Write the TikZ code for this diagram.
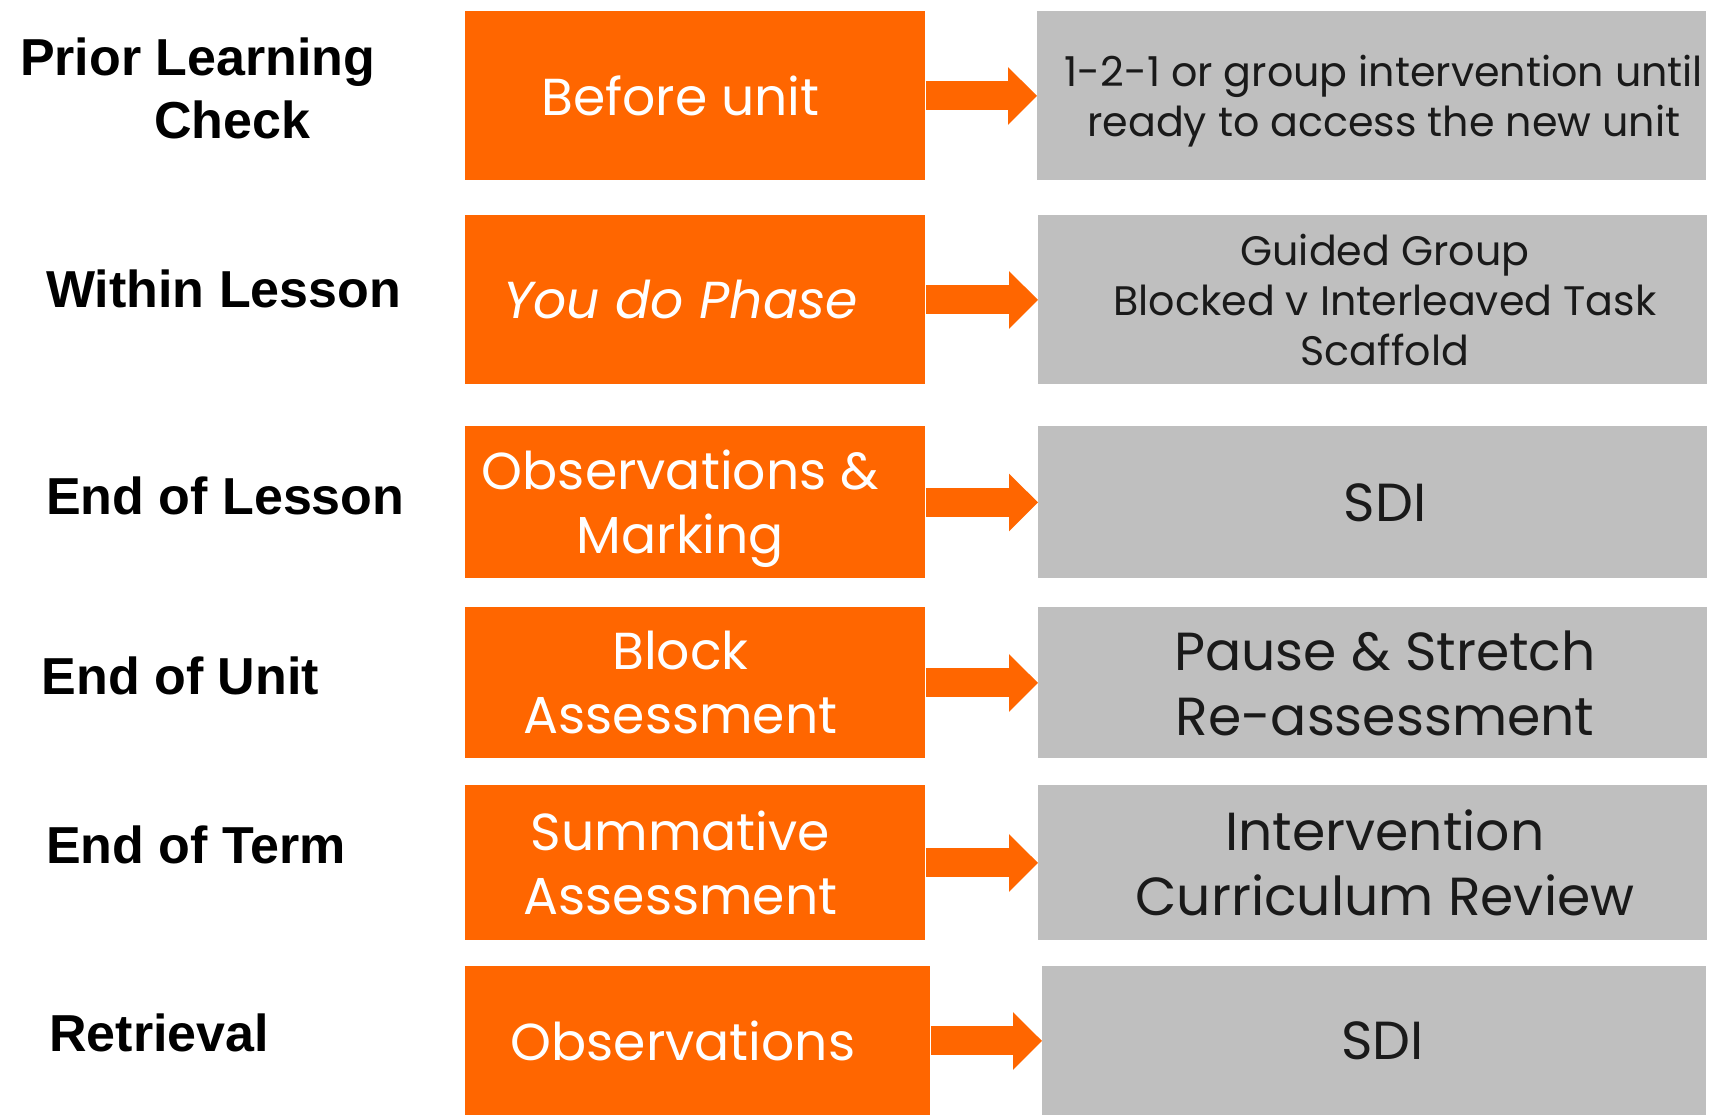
\documentclass[tikz,border=0pt]{standalone}
\usepackage{fontspec}
\setmainfont{Poppins}
\newfontfamily\labfont{Liberation Sans}
\usetikzlibrary{arrows.meta}
\definecolor{orng}{HTML}{FF6600}
\definecolor{gry}{HTML}{BFBFBF}
\definecolor{ink}{HTML}{1A1A1A}
\begin{document}
\begin{tikzpicture}[x=0.5pt,y=-0.5pt,
  obox/.style={fill=orng, draw=none, anchor=north west, inner sep=0pt, minimum width=230pt},
  gbox/.style={fill=gry, draw=none, anchor=north west, inner sep=0pt, minimum width=334.5pt},
  otext/.style={text=white, align=center, inner sep=0pt, xshift=-7.5pt,
    font=\fontsize{26}{32}\selectfont},
  gtext/.style={text=ink, align=center, inner sep=0pt, xshift=6pt},
  small/.style={font=\fontsize{20.6}{25}\selectfont},
  big/.style={font=\fontsize{26.8}{32.5}\selectfont},
  lab/.style={anchor=west, inner sep=0pt, align=left, text=black,
    font=\labfont\bfseries\fontsize{26}{31.5}\selectfont},
  arr/.style={orng, line width=14.5pt, -{Triangle[length=14.5pt,width=28pt]}}]
\useasboundingbox (0,0) rectangle (1709,1115);
\fill[white] (0,0) rectangle (1709,1115);
% left labels
\node[lab] (l1) at (19.6,88) {Prior Learning\\\hspace*{67pt}Check};
\node[lab] (l2) at (45.8,289) {Within Lesson};
\node[lab] (l3) at (45.8,496) {End of Lesson};
\node[lab] (l4) at (41.4,676) {End of Unit};
\node[lab] (l5) at (45.8,845) {End of Term};
\node[lab] (l6) at (49,1033) {Retrieval};
% orange boxes
\node[obox, minimum height=84.5pt] (o1) at (465,11) {};
\node[obox, minimum height=84.5pt] (o2) at (465,215) {};
\node[obox, minimum height=76pt] (o3) at (465,426) {};
\node[obox, minimum height=75.5pt] (o4) at (465,607) {};
\node[obox, minimum height=77.5pt] (o5) at (465,785) {};
\node[obox, minimum height=74.5pt, minimum width=232.5pt] (o6) at (465,966) {};
\node[otext] (t1) at (o1.center) {Before unit};
\node[otext] (t2) at (o2.center) {\itshape You do Phase};
\node[otext, yshift=-3pt] (t3) at (o3.center) {Observations \&\\Marking};
\node[otext] (t4) at (o4.center) {Block\\Assessment};
\node[otext] (t5) at (o5.center) {Summative\\Assessment};
\node[otext] (t6) at (o6.center) {Observations};
% grey boxes
\node[gbox, minimum height=84.5pt] (g1) at (1037,11) {};
\node[gbox, minimum height=84.5pt] (g2) at (1038,215) {};
\node[gbox, minimum height=76pt] (g3) at (1038,426) {};
\node[gbox, minimum height=75.5pt] (g4) at (1038,607) {};
\node[gbox, minimum height=77.5pt] (g5) at (1038,785) {};
\node[gbox, minimum height=74.5pt, minimum width=332pt] (g6) at (1042,966) {};
\node[gtext, small, yshift=-2.7pt] (s1) at (g1.center) {1-2-1 or group intervention until\\ready to access the new unit};
\node[gtext, small] (s2) at (g2.center) {Guided Group\\Blocked v Interleaved Task\\Scaffold};
\node[gtext, big] (s3) at (g3.center) {SDI};
\node[gtext, big] (s4) at (g4.center) {Pause \& Stretch\\Re-assessment};
\node[gtext, big] (s5) at (g5.center) {Intervention\\Curriculum Review};
\node[gtext, big, xshift=-2pt] (s6) at (g6.center) {SDI};
% arrows
\foreach \i in {1,...,6} {\draw[arr] (o\i.east) -- (g\i.west);}
\end{tikzpicture}
\end{document}
